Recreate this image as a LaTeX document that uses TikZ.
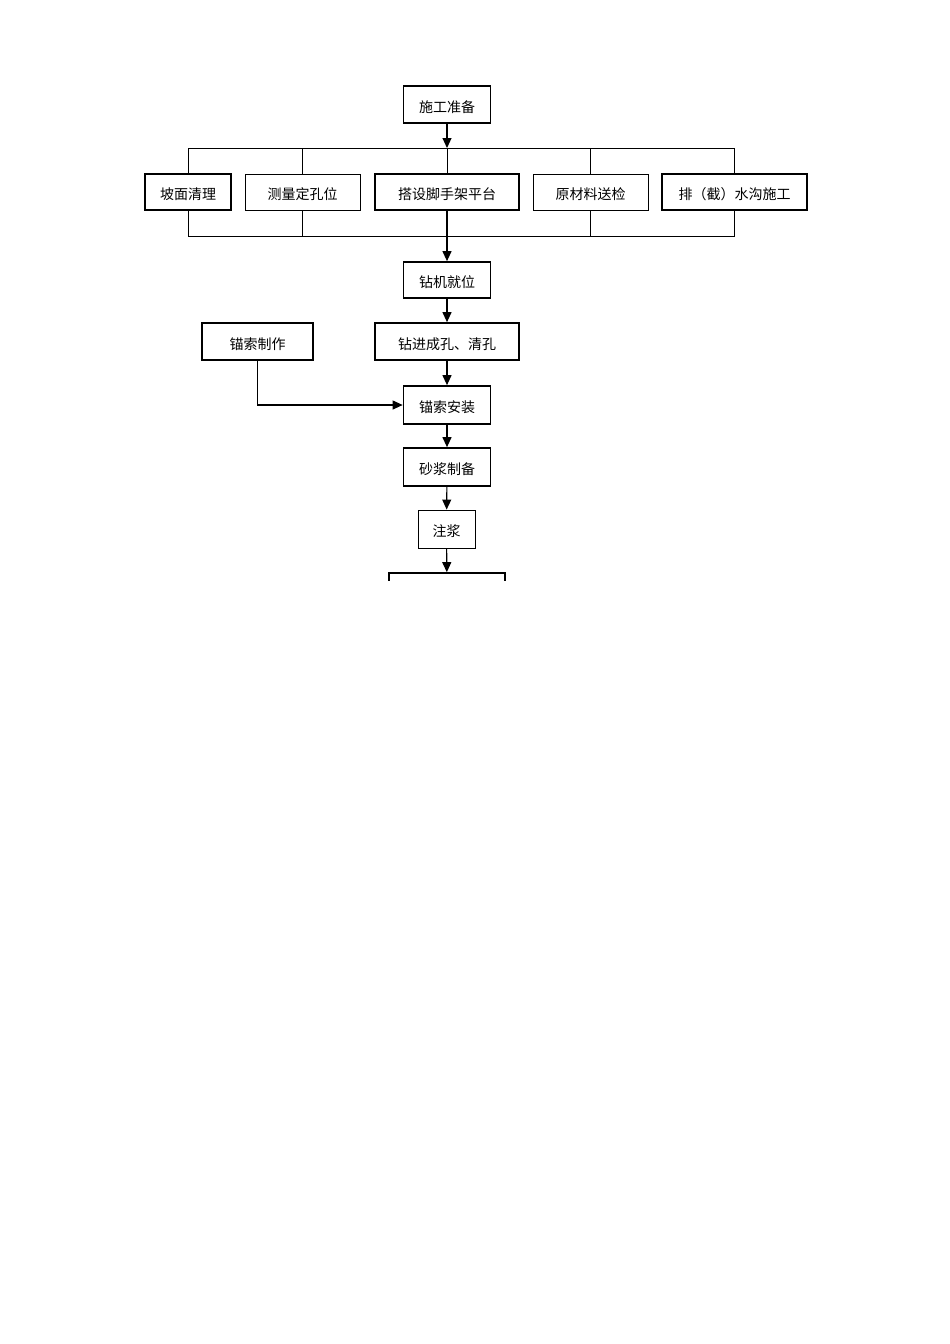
\documentclass[tikz,border=0pt]{standalone}
\usepackage{fontspec}
\setmainfont{Noto Sans CJK SC}
\usetikzlibrary{arrows.meta}
\begin{document}
\begin{tikzpicture}[x=1pt,y=-1pt,
  boxthick/.style={draw,line width=1.7pt,inner sep=0pt,font=\fontsize{14}{16}\selectfont,text depth=0pt,text height=15pt},
  boxthin/.style={draw,line width=0.9pt,inner sep=0pt,font=\fontsize{14}{16}\selectfont,text depth=0pt,text height=15pt},
  conn/.style={line width=0.9pt},
  arr/.style={line width=1.1pt,-{Triangle[length=10pt,width=9pt]}}]
\useasboundingbox[fill=white] (0,0) rectangle (950,1344);
% top
\node[boxthick,minimum width=87pt,minimum height=37pt] (sg) at (447,104.5) {施工准备};
% row
\node[boxthin,line width=1.3pt,minimum width=86pt,minimum height=36pt] (b1) at (188,192) {坡面清理};
\node[boxthin,minimum width=115pt,minimum height=36pt] (b2) at (302.5,192) {测量定孔位};
\node[boxthick,minimum width=144pt,minimum height=36pt] (b3) at (447,192) {搭设脚手架平台};
\node[boxthin,minimum width=115pt,minimum height=36pt] (b4) at (590.5,192) {原材料送检};
\node[boxthick,minimum width=145pt,minimum height=36pt] (b5) at (734.5,192) {排（截）水沟施工};
\coordinate (topbar) at (447,148);
\coordinate (botbar) at (447,236);
\draw[arr] (sg) -- (topbar);
\draw[conn] (b1.north) -- (b1.north |- topbar) -- (b5.north |- topbar) -- (b5.north);
\draw[conn] (b2.north) -- (b2.north |- topbar);
\draw[conn] (b3.north) -- (topbar);
\draw[conn] (b4.north) -- (b4.north |- topbar);
\draw[conn] (b1.south) -- (b1.south |- botbar) -- (b5.south |- botbar) -- (b5.south);
\draw[conn] (b2.south) -- (b2.south |- botbar);
\draw[conn] (b4.south) -- (b4.south |- botbar);
% chain
\node[boxthick,minimum width=87pt,minimum height=36pt] (zj) at (447,280) {钻机就位};
\node[boxthick,minimum width=144pt,minimum height=37pt] (zk) at (447,341.5) {钻进成孔、清孔};
\node[boxthick,minimum width=111pt,minimum height=37pt] (mz) at (257.5,341.5) {锚索制作};
\node[boxthick,minimum width=87pt,minimum height=38pt] (ma) at (447,405) {锚索安装};
\node[boxthick,minimum width=87pt,minimum height=38pt] (sj) at (447,467) {砂浆制备};
\node[boxthin,minimum width=57pt,minimum height=38pt] (zjg) at (446.5,529) {注浆};
\begin{scope}
\clip (0,0) rectangle (950,580);
\node[boxthick,minimum width=116pt,minimum height=36pt] (last) at (447,591) {};
\end{scope}
\draw[arr] (b3.south) -- (zj);
\draw[arr] (zj) -- (zk);
\draw[arr] (zk) -- (ma);
\draw[arr] (mz.south) |- (ma.west);
\draw[arr] (ma) -- (sj);
\draw[arr] (sj) -- (zjg);
\draw[arr] (zjg) -- (last);
\end{tikzpicture}
\end{document}
